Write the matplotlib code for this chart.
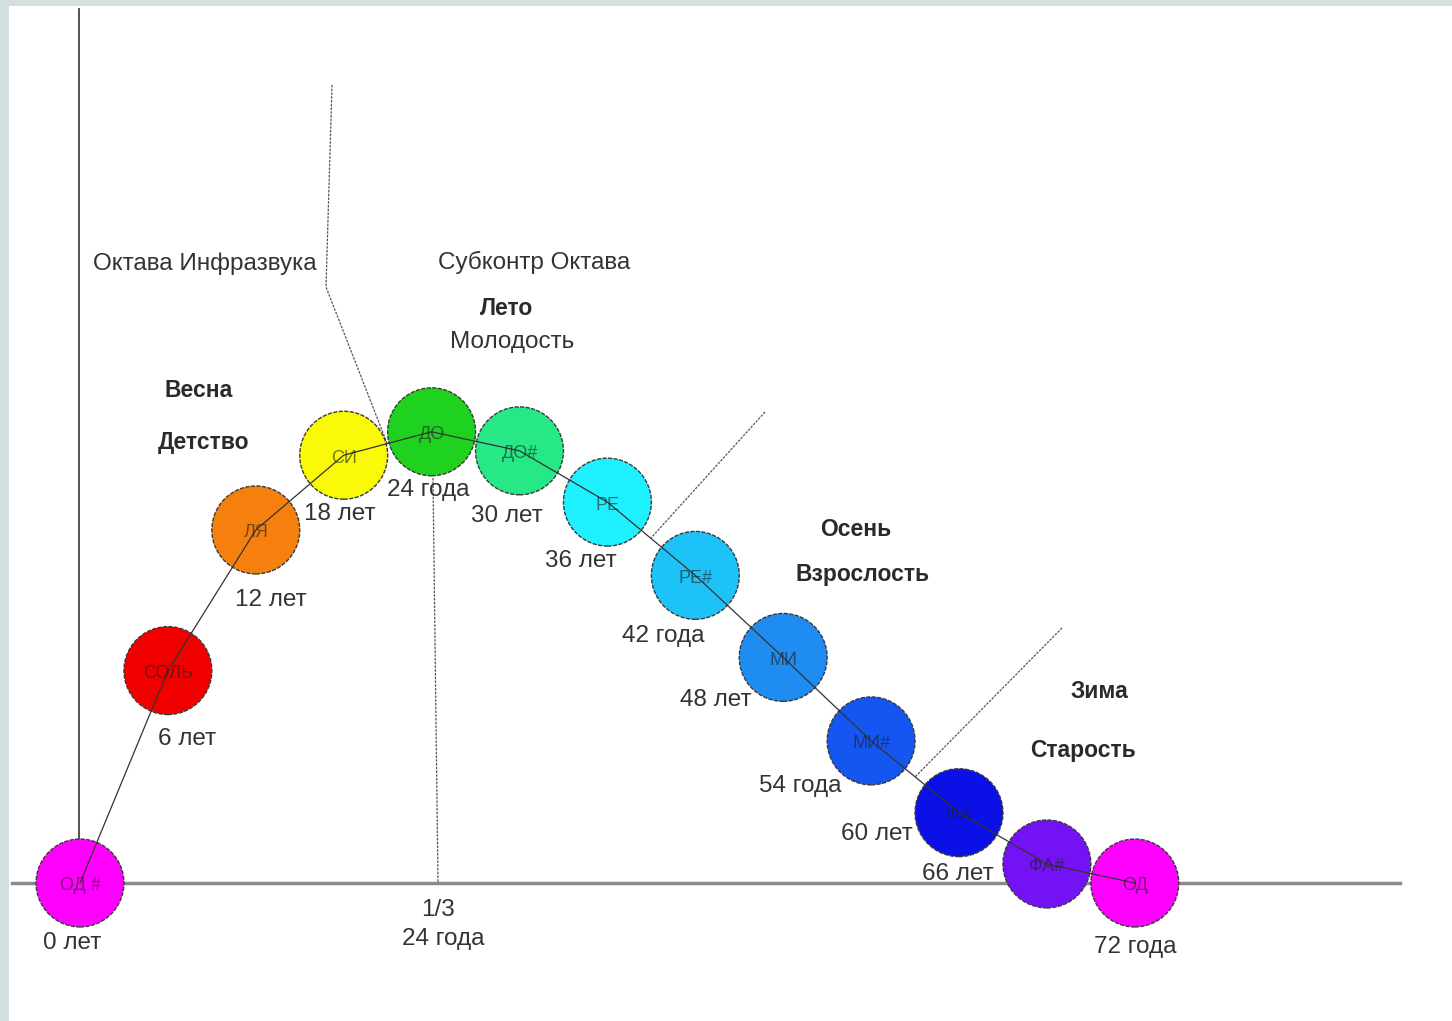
import matplotlib.pyplot as plt
from matplotlib.patches import Circle, Rectangle

# notes along the life curve
notes = ["ОД #", "СОЛЬ", "ЛЯ", "СИ", "ДО", "ДО#", "РЕ", "РЕ#", "МИ", "МИ#", "ФА", "ФА#", "ОД"]
ages = [0, 6, 12, 18, 24, 30, 36, 42, 48, 54, 60, 66, 72]
age_labels = ["0 лет", "6 лет", "12 лет", "18 лет", "24 года", "30 лет", "36 лет",
              "42 года", "48 лет", "54 года", "60 лет", "66 лет", "72 года"]
levels = [0, 14.5, 24.1, 29.2, 30.8, 29.5, 26.0, 21.0, 15.4, 9.7, 4.8, 1.3, 0]
note_colors = ["#ff00ff", "#f20000", "#f6800e", "#fafa08", "#1fd21f", "#26e886", "#1ef0ff",
               "#1cc2f8", "#1e8cf0", "#1656f0", "#0a10e6", "#7212f5", "#ff00ff"]

seasons = ["Октава Инфразвука", "Субконтр Октава", "Лето", "Молодость", "Весна", "Детство",
           "Осень", "Взрослость", "Зима", "Старость"]
season_bold = [False, False, True, False, True, True, True, True, True, True]

# ---- layout (pixel positions of the original picture) ----
W, H = 1452, 1021
X0, Y0, S = 80, 883, 14.65   # origin pixel and pixels per year
R = 3.0                       # circle radius in years
TY = 3                        # text baseline correction, px


def P(x, y):
    return (x - X0) / S, (Y0 - y) / S


season_pos = [(205, 261), (534, 259), (507, 306), (512, 339), (199, 388), (204, 440),
              (856, 527), (863, 572), (1099, 689), (1083, 748)]
label_off = [(-8, 57), (19, 65), (15, 67), (-4, 56), (-3, 55), (-13, 62), (-27, 56),
             (-32, 58), (-67, 40), (-71, 42), (-82, 18), (-89, 7), (0, 61)]

plt.rcParams['font.family'] = ['Liberation Sans', 'DejaVu Sans']

fig = plt.figure(figsize=(W / 100, H / 100), dpi=100, facecolor="#d3e0e0")
ax = fig.add_axes([0, 0, 1, 1])
ax.set_xlim(P(0, 0)[0], P(W, 0)[0])
ax.set_ylim(P(0, H)[1], P(0, 0)[1])
ax.axis("off")

# white sheet
x_a, y_a = P(9, H)
x_b, y_b = P(W, 6)
ax.add_patch(Rectangle((x_a, y_a), x_b - x_a, y_b - y_a, facecolor="white", edgecolor="none", zorder=0))

# axes lines
ax.plot(*zip(P(79, 9), P(79, 883)), color="#444444", lw=1.3, zorder=1)
ax.plot(*zip(P(12, 883), P(1400, 883)), color="#8a8a8a", lw=2.5, zorder=1)

# dotted division lines
dots = dict(color="#555555", lw=0.9, ls=(0, (2, 1)), zorder=1)
ax.plot(*zip(P(332, 85), P(326, 287), P(387, 443)), **dots)
ax.plot(*zip(P(433, 478), P(438, 883)), **dots)
ax.plot(*zip(P(765, 412), P(651, 538)), **dots)
ax.plot(*zip(P(1062, 628), P(915, 777)), **dots)

# circles
for a, lv, c in zip(ages, levels, note_colors):
    ax.add_patch(Circle((a, lv), R, facecolor=c, edgecolor="#3a3a3a", lw=1.0,
                        ls=(0, (3, 1)), zorder=2))

# connecting line
ax.plot(ages, levels, color="#333333", lw=0.9, zorder=3)

# note names
for a, lv, n in zip(ages, levels, notes):
    ax.text(a, lv - TY / S, n, ha="center", va="center", fontsize=13, color="#202020",
            alpha=0.6, zorder=4)

# age labels
for a, lv, t, (dx, dy) in zip(ages, levels, age_labels, label_off):
    ax.text(a + dx / S, lv - (dy + TY) / S, t, ha="center", va="center", fontsize=17.5,
            color="#333333", zorder=4)

# season / octave texts
for t, (px, py), b in zip(seasons, season_pos, season_bold):
    ax.text(*P(px, py + TY), t, ha="center", va="center",
            fontsize=16.5 if b else 17.5,
            fontweight="bold" if b else "normal", color="#2a2a2a" if b else "#333333")

ax.text(*P(438, 907 + TY), "1/3", ha="center", va="center", fontsize=17.5, color="#333333")
ax.text(*P(443, 936 + TY), "24 года", ha="center", va="center", fontsize=17.5, color="#333333")

fig.savefig("out.png", dpi=100, facecolor=fig.get_facecolor())
